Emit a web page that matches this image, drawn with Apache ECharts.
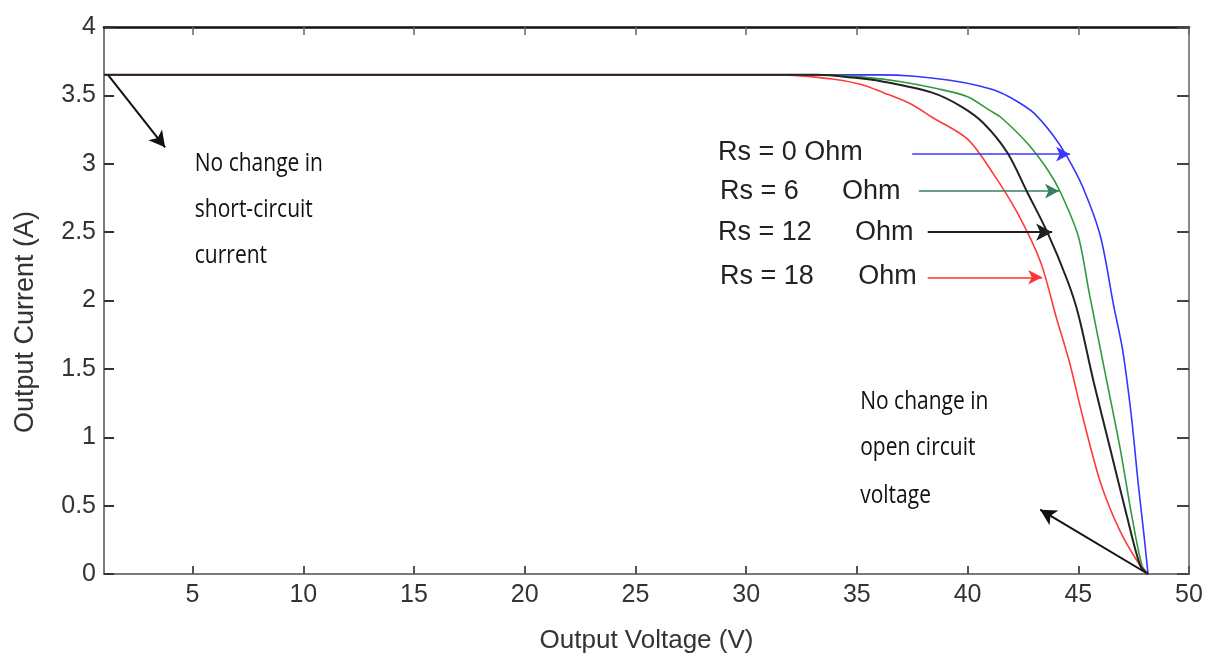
<!DOCTYPE html>
<html>
<head>
<meta charset="utf-8">
<script src="https://cdn.jsdelivr.net/npm/echarts@6/dist/echarts.min.js"></script>
<style>
html,body{margin:0;padding:0;background:#fff;}
#chart{width:1212px;height:659px;}
</style>
</head>
<body>
<div id="chart"></div>
<script>
// ---- Data ----
const voltageTicks = [5, 10, 15, 20, 25, 30, 35, 40, 45, 50];
const currentTicks = [0, 0.5, 1, 1.5, 2, 2.5, 3, 3.5, 4];
const seriesNames = ['Rs = 0 Ohm', 'Rs = 6 Ohm', 'Rs = 12 Ohm', 'Rs = 18 Ohm'];

// [voltage (V), current (A)]
const rs0 = [[1,3.65],[36.0,3.65],[37.6,3.64],[39.2,3.61],[40.5,3.57],[41.5,3.52],[42.3,3.45],[43.0,3.37],[43.9,3.20],[44.5,3.05],[45.2,2.83],[46.0,2.47],[46.6,1.96],[47.0,1.64],[47.4,1.15],[47.7,0.67],[47.95,0.31],[48.15,0]];
const rs6 = [[1,3.65],[33.5,3.65],[35.5,3.63],[37.0,3.60],[38.6,3.55],[40.0,3.49],[41.0,3.39],[41.5,3.34],[42.7,3.15],[43.6,2.96],[44.2,2.79],[45.0,2.47],[45.5,2.05],[46.3,1.40],[46.9,0.91],[47.4,0.44],[47.88,0.06],[48.15,0]];
const rs12 = [[1,3.65],[33.2,3.65],[34.8,3.63],[36.2,3.60],[38.4,3.52],[39.7,3.42],[40.7,3.30],[41.8,3.08],[42.7,2.79],[43.6,2.50],[44.5,2.15],[45.0,1.90],[45.7,1.40],[46.45,0.91],[47.2,0.42],[47.8,0.06],[48.15,0]];
const rs18 = [[1,3.65],[31.4,3.65],[33.9,3.62],[35.2,3.58],[36.2,3.52],[37.4,3.44],[38.4,3.34],[40.0,3.18],[41.15,2.93],[42.25,2.64],[43.3,2.28],[44.0,1.88],[44.6,1.55],[45.2,1.15],[46.0,0.67],[46.9,0.31],[47.8,0.06],[48.15,0]];

// Annotation arrows: [from, to] in data coordinates
const iscArrow = [[1.18, 3.65], [3.76, 3.12]];
const vocArrow = [[48.15, 0], [43.28, 0.47]];
const labelArrows = [
  [[37.5, 3.07], [44.63, 3.07]],
  [[37.8, 2.80], [44.13, 2.80]],
  [[38.2, 2.50], [43.82, 2.50]],
  [[38.2, 2.17], [43.37, 2.17]]
];

// Annotation texts: [voltage, current, text]
const iscNote = [[5.1, 3.00, 'No change in'], [5.1, 2.66, 'short-circuit'], [5.1, 2.33, 'current']];
const vocNote = [[35.15, 1.26, 'No change in'], [35.15, 0.92, 'open circuit'], [35.15, 0.57, 'voltage']];
const rsLabels = [
  [28.73, 3.08, 'Rs = 0 Ohm'],
  [28.82, 2.80, 'Rs = 6'], [34.33, 2.80, 'Ohm'],
  [28.73, 2.50, 'Rs = 12'], [34.92, 2.50, 'Ohm'],
  [28.82, 2.175, 'Rs = 18'], [35.06, 2.175, 'Ohm']
];

const xTitle = 'Output Voltage (V)';
const yTitle = 'Output Current (A)';

// ---- Styles ----
const colors = ['#3535ff', '#2f9a3c', '#222222', '#ff3a3a'];
const arrowColors = ['#3a3aff', '#3b7d60', '#1e1e1e', '#ff3535'];

const chart = echarts.init(document.getElementById('chart'), null, {renderer: 'canvas'});

function arrowLine(pair, color, width) {
  return [
    {coord: pair[0], lineStyle: {color: color, width: width, type: 'solid'}},
    {coord: pair[1]}
  ];
}

function curve(name, data, color, z, width, extraMarks) {
  const s = {
    name: name, type: 'line', data: data, showSymbol: false, symbol: 'none',
    smooth: 0.3,
    lineStyle: {color: color, width: width}, z: z, silent: true
  };
  if (extraMarks) s.markLine = extraMarks;
  return s;
}

function marks(lines, size) {
  return {
    silent: true, symbol: ['none', 'arrow'], symbolSize: size,
    label: {show: false}, animation: false,
    data: lines
  };
}

const option = {
  animation: false,
  backgroundColor: '#ffffff',
  grid: {left: 104, right: 23, top: 27, bottom: 84, containLabel: false},
  xAxis: [{
    type: 'value', min: 1, max: 50, position: 'bottom',
    axisLine: {show: true, onZero: false, lineStyle: {color: '#7a7a7a', width: 2}},
    axisTick: {show: true, inside: true, length: 8, customValues: voltageTicks, lineStyle: {color: '#555', width: 2}},
    axisLabel: {show: true, customValues: voltageTicks, fontFamily: 'Liberation Sans', fontSize: 25, color: '#333', margin: 9},
    splitLine: {show: false},
    name: xTitle, nameLocation: 'middle', nameGap: 54,
    nameTextStyle: {fontFamily: 'Liberation Sans', fontSize: 26, color: '#333'}
  }, {
    type: 'value', min: 1, max: 50, position: 'top',
    axisLine: {show: true, onZero: false, lineStyle: {color: '#111', width: 2.5}},
    axisTick: {show: true, inside: true, length: 8, customValues: voltageTicks, lineStyle: {color: '#666', width: 1.5}},
    axisLabel: {show: false},
    splitLine: {show: false}
  }],
  yAxis: [{
    type: 'value', min: 0, max: 4, interval: 0.5, position: 'left',
    axisLine: {show: true, onZero: false, lineStyle: {color: '#7a7a7a', width: 2}},
    axisTick: {show: true, inside: true, length: 10, lineStyle: {color: '#333', width: 2}},
    axisLabel: {show: true, fontFamily: 'Liberation Sans', fontSize: 25, color: '#333', margin: 8},
    splitLine: {show: false}
  }, {
    type: 'value', min: 0, max: 4, interval: 0.5, position: 'right',
    axisLine: {show: true, onZero: false, lineStyle: {color: '#8a8a8a', width: 2}},
    axisTick: {show: true, inside: true, length: 12, lineStyle: {color: '#444', width: 2}},
    axisLabel: {show: false},
    splitLine: {show: false}
  }],
  series: [
    curve(seriesNames[0], rs0, colors[0], 2, 1.6, marks([arrowLine(labelArrows[0], arrowColors[0], 1.6)], [11, 14])),
    curve(seriesNames[1], rs6, colors[1], 3, 1.6, marks([arrowLine(labelArrows[1], arrowColors[1], 1.6)], [11, 14])),
    curve(seriesNames[3], rs18, colors[3], 4, 1.6, marks([arrowLine(labelArrows[3], arrowColors[3], 1.6)], [11, 14])),
    curve(seriesNames[2], rs12, colors[2], 5, 2, marks([
      arrowLine(labelArrows[2], arrowColors[2], 2),
      arrowLine(iscArrow, '#111', 2),
      arrowLine(vocArrow, '#111', 2)
    ], [13, 16]))
  ]
};

chart.setOption(option);

// ---- Text annotations placed from data coordinates ----
const graphics = [];
function addText(item, font, size, color, sy) {
  const p = chart.convertToPixel({xAxisIndex: 0, yAxisIndex: 0}, [item[0], item[1]]);
  graphics.push({
    type: 'text', x: p[0], y: p[1], scaleY: sy, silent: true,
    style: {text: item[2], fill: color, font: size + 'px "' + font + '"', textAlign: 'left', textVerticalAlign: 'middle'}
  });
}
iscNote.forEach(t => addText(t, 'Open Sans', 21, '#111', 1.2));
vocNote.forEach(t => addText(t, 'Open Sans', 21, '#111', 1.2));
rsLabels.forEach(t => addText(t, 'Liberation Sans', 27, '#222', 1.0));

// Y axis title (rotated)
graphics.push({
  type: 'text', x: 26, y: 322, rotation: Math.PI / 2, silent: true,
  style: {text: yTitle, fill: '#333', font: '27px "Liberation Sans"', textAlign: 'center', textVerticalAlign: 'middle'}
});

chart.setOption({graphic: graphics});
</script>
</body>
</html>
